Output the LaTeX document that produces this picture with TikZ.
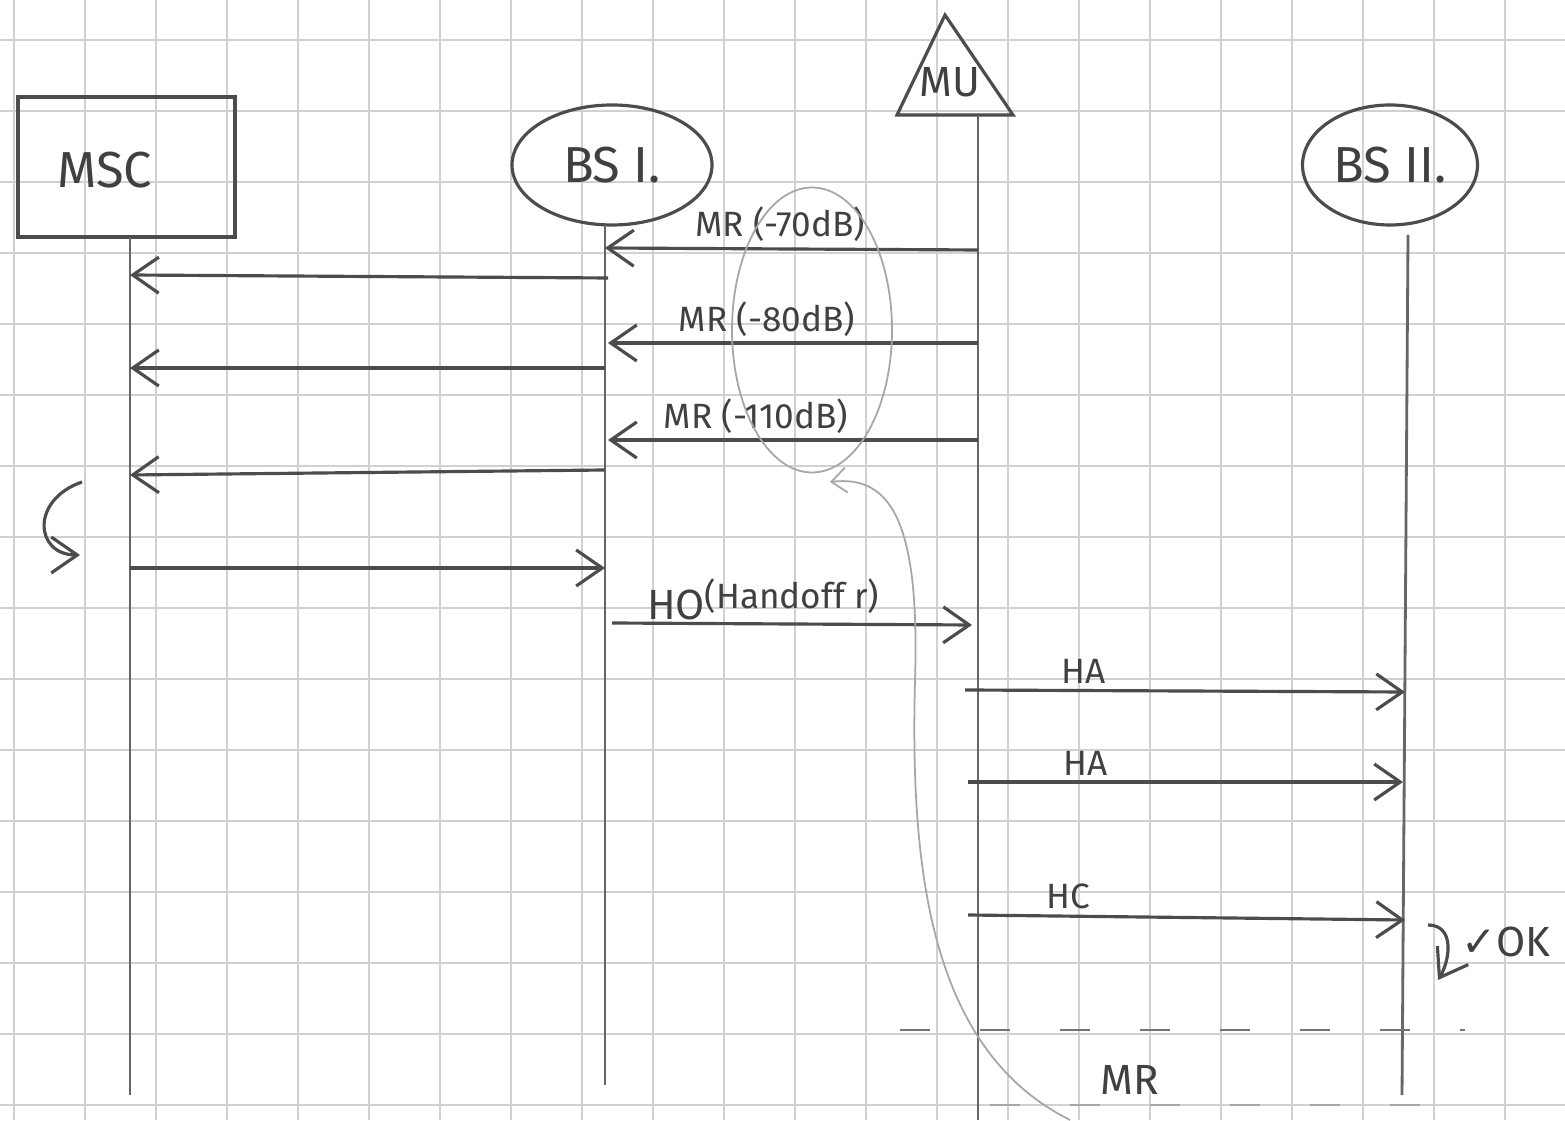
\documentclass[tikz,border=0pt]{standalone}
\usepackage{fontspec}
\setmainfont{Fira Sans}
\newfontfamily\symfont{DejaVu Sans}
\usetikzlibrary{arrows.meta,shapes.geometric}
\tikzset{
  pencil/.style={draw=black!70, line width=0.9pt},
  lifeline/.style={draw=black!60, line width=0.8pt},
  msg/.style={pencil, -{Straight Barb[length=2.6mm,width=3.6mm]}},
  faint/.style={draw=black!35, line width=0.5pt},
  lbl/.style={text=black!75, font=\normalsize, inner sep=1.5pt}
}
\begin{document}
\begin{tikzpicture}
        \useasboundingbox (0,0) rectangle (15.65,11.2);
        \fill[white] (0,0) rectangle (15.65,11.2);
        \foreach \x in {0,...,21} \draw[black!18] (0.14+0.71*\x,0) -- (0.14+0.71*\x,11.2);
        \foreach \y in {0,...,15} \draw[black!18] (0,10.80-0.71*\y) -- (15.65,10.80-0.71*\y);
        \node[pencil, rectangle, minimum width=2.17cm, minimum height=1.40cm] (msc) at (1.265,9.53) {};
        \node[text=black!75, font=\Large] (msctext) at (1.05,9.50) {MSC};
        \node[pencil, ellipse, inner sep=0pt, minimum width=2.0cm, minimum height=1.2cm, text=black!75, font=\Large] (bs1) at (6.12,9.55) {BS I.};
        \coordinate (muleft) at (8.97,10.05);
        \coordinate (muapex) at (9.45,11.05);
        \coordinate (muright) at (10.13,10.05);
        \path[pencil] (muleft) -- (muapex) -- (muright) -- cycle;
        \node[text=black!75, font=\large] (mu) at (9.50,10.38) {MU};
        \node[pencil, ellipse, inner sep=0pt, minimum width=1.75cm, minimum height=1.2cm, text=black!75, font=\Large] (bs2) at (13.9,9.55) {BS II.};
        \coordinate (msctop) at (1.30,8.83);
        \coordinate (mscbot) at (1.30,0.25);
        \coordinate (bs1top) at (6.05,8.95);
        \coordinate (bs1bot) at (6.05,0.35);
        \coordinate (mutop) at (9.78,10.05);
        \coordinate (mubot) at (9.78,0.0);
        \coordinate (bs2top) at (14.08,8.85);
        \coordinate (bs2bot) at (14.02,0.25);
        \path[lifeline] (msctop) -- (mscbot);
        \path[lifeline] (bs1top) -- (bs1bot);
        \path[lifeline] (mutop) -- (mubot);
        \path[lifeline] (bs2top) -- (bs2bot);
        \coordinate (mu1) at (9.78,8.70);
        \coordinate (bs1a) at (6.05,8.72);
        \coordinate (bs1b) at (6.08,8.42);
        \coordinate (msc1) at (1.30,8.45);
        \coordinate (mu2) at (9.78,7.77);
        \coordinate (bs1c) at (6.08,7.77);
        \coordinate (bs1d) at (6.05,7.52);
        \coordinate (msc2) at (1.30,7.52);
        \coordinate (mu3) at (9.78,6.80);
        \coordinate (bs1e) at (6.08,6.80);
        \coordinate (bs1f) at (6.05,6.50);
        \coordinate (msc3) at (1.30,6.45);
        \coordinate (msc4) at (1.30,5.52);
        \coordinate (bs1g) at (6.05,5.52);
        \coordinate (bs1h) at (6.12,4.97);
        \coordinate (mu4) at (9.72,4.95);
        \coordinate (mu5) at (9.65,4.30);
        \coordinate (bs2a) at (14.05,4.28);
        \coordinate (mu6) at (9.68,3.38);
        \coordinate (bs2b) at (14.03,3.38);
        \coordinate (mu7) at (9.68,2.05);
        \coordinate (bs2c) at (14.05,2.00);
        \path[msg] (mu1) -- node[lbl, pos=0.53, above] {MR (-70dB)} (bs1a);
        \path[msg] (bs1b) -- (msc1);
        \path[msg] (mu2) -- node[lbl, pos=0.57, above] {MR (-80dB)} (bs1c);
        \path[msg] (bs1d) -- (msc2);
        \path[msg] (mu3) -- node[lbl, pos=0.6, above] {MR (-110dB)} (bs1e);
        \path[msg] (bs1f) -- (msc3);
        \path[msg] (msc4) -- (bs1g);
        \path[msg] (bs1h) -- node[lbl, pos=0.42, above, inner sep=0.5pt, font=\large] {HO\raisebox{0.5ex}{\normalsize(Handoff r)}} (mu4);
        \path[msg] (mu5) -- node[lbl, pos=0.27, above] {HA} (bs2a);
        \path[msg] (mu6) -- node[lbl, pos=0.27, above] {HA} (bs2b);
        \path[msg] (mu7) -- node[lbl, pos=0.23, above] {HC} (bs2c);
        \coordinate (loopa) at (0.82,6.38);
        \coordinate (loopb) at (0.80,5.65);
        \path[msg] (loopa) .. controls (0.30,6.20) and (0.35,5.65) .. (loopb);
        \coordinate (okloopa) at (14.28,1.95);
        \coordinate (okloopb) at (14.38,1.40);
        \path[msg] (okloopa) .. controls (14.55,1.95) and (14.50,1.60) .. (okloopb);
        \node[lbl, font=\large, anchor=west] (ok) at (14.55,1.78) {{\symfont ✓}OK};
        \node[faint, ellipse, minimum width=1.6cm, minimum height=2.85cm] (mrgroup) at (8.12,7.90) {};
        \coordinate (tailend) at (10.70,0.0);
        \path[faint, -{Straight Barb[length=1.5mm,width=2.5mm]}] (tailend) .. controls (9.3,0.7) and (9.1,2.5) .. (9.15,4.4) .. controls (9.2,6.0) and (8.9,6.45) .. (8.30,6.38);
        \coordinate (dasha) at (9.0,0.90);
        \coordinate (dashb) at (14.65,0.90);
        \coordinate (dashc) at (9.9,0.15);
        \coordinate (dashd) at (14.65,0.15);
        \path[draw=black!55, line width=0.7pt, dash pattern=on 0.3cm off 0.5cm] (dasha) -- (dashb);
        \path[faint, dash pattern=on 0.3cm off 0.5cm] (dashc) -- (dashd);
        \node[lbl, font=\large] (mrlast) at (11.3,0.40) {MR};
\end{tikzpicture}
\end{document}
